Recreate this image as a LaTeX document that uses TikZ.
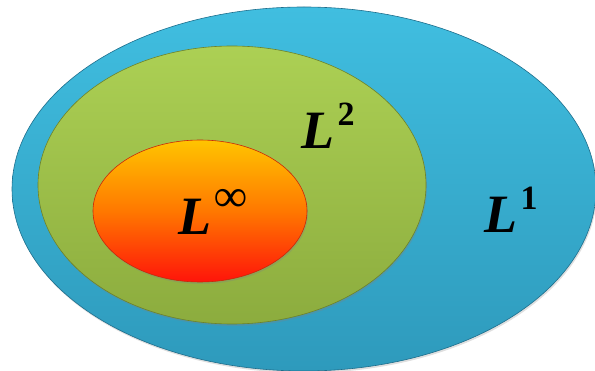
\documentclass[tikz,border=0pt]{standalone}
\usepackage{fontspec}
\setmainfont{Liberation Serif}
\usetikzlibrary{shapes.geometric,shadows}
\newcommand{\Lsup}[2][34]{{\bfseries\itshape L}\kern0.06em\raisebox{0.42em}{\fontsize{#1}{#1}\selectfont\bfseries #2}}
\begin{document}
\begin{tikzpicture}[x=1pt,y=-1pt,
  blob/.style={ellipse,inner sep=0pt,line width=0.6pt},
  lab/.style={inner sep=0pt,font=\fontsize{54}{58}\selectfont}]
\useasboundingbox (0,0) rectangle (595,371);
\node[blob,minimum width=584,minimum height=364,draw={rgb,255:red,30;green,110;blue,140},
  top color={rgb,255:red,64;green,190;blue,224},bottom color={rgb,255:red,46;green,154;blue,188},
  drop shadow={opacity=0.25,shadow xshift=1pt,shadow yshift=-2pt}] (l1) at (304,189) {};
\node[blob,minimum width=388,minimum height=278,draw={rgb,255:red,110;green,130;blue,40},
  top color={rgb,255:red,172;green,208;blue,84},bottom color={rgb,255:red,140;green,172;blue,62},
  drop shadow={opacity=0.3,shadow xshift=1pt,shadow yshift=-2pt}] (l2) at (232,185) {};
\node[blob,minimum width=214,minimum height=142,draw={rgb,255:red,200;green,40;blue,10},
  top color={rgb,255:red,255;green,196;blue,0},bottom color={rgb,255:red,255;green,20;blue,10},
  middle color={rgb,255:red,255;green,120;blue,0},
  drop shadow={opacity=0.3,shadow xshift=1pt,shadow yshift=-2pt}] (linf) at (200,211) {};
\node[lab] (t2) at (328,126) {\Lsup{2}};
\node[lab] (tinf) at (213,212) {\Lsup[46]{\char"221E}};
\node[lab] (t1) at (511,210) {\Lsup{1}};
\end{tikzpicture}
\end{document}
